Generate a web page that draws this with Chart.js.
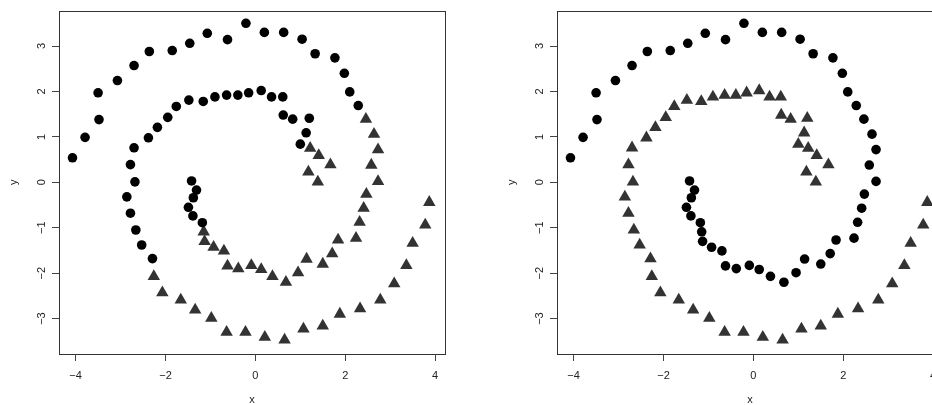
<!DOCTYPE html>
<html>
<head>
<meta charset="utf-8">
<script src="https://cdn.jsdelivr.net/npm/chart.js@4"></script>
<style>
  html, body { margin: 0; padding: 0; background: #fff; overflow: hidden; width: 932px; height: 405px; }
  .panel { position: absolute; top: 0; }
  #left-panel { left: 0; }
  #right-panel { left: 498px; }
</style>
</head>
<body>
<div class="panel" id="left-panel"><canvas id="chart-left" width="460" height="405"></canvas></div>
<div class="panel" id="right-panel"><canvas id="chart-right" width="460" height="405"></canvas></div>
<script>
// ==================================================
// DATA
// ==================================================
// spiral arm A: outer arc, right side, inner lower arc, centre
const spiralAx = [-4.07, -3.79, -3.48, -3.50, -3.07, -2.70, -2.36, -1.85, -1.46, -1.07,
  -0.62, -0.21, 0.20, 0.63, 1.04, 1.33, 1.77, 1.98, 2.10, 2.29,
  2.46, 2.64, 2.73, 2.58, 2.73,
  2.47, 2.41, 2.32, 2.24, 1.84, 1.71, 1.50, 1.14, 0.95, 0.68,
  0.38, 0.13, -0.09, -0.38, -0.62, -0.70, -0.93, -1.13, -1.15,
  -1.18, -1.39, -1.49, -1.38, -1.31, -1.42];
const spiralAy = [0.54, 0.99, 1.38, 1.97, 2.24, 2.57, 2.88, 2.90, 3.06, 3.28,
  3.14, 3.50, 3.30, 3.30, 3.15, 2.83, 2.74, 2.40, 1.99, 1.69,
  1.39, 1.06, 0.72, 0.38, 0.02,
  -0.26, -0.57, -0.88, -1.23, -1.27, -1.57, -1.80, -1.69, -1.99, -2.20,
  -2.07, -1.92, -1.83, -1.90, -1.84, -1.51, -1.43, -1.30, -1.09,
  -0.89, -0.74, -0.55, -0.34, -0.17, 0.03];

// spiral arm B: centre, inner upper arc, left side, outer lower arc
const spiralBx = [1.39, 1.18, 1.67, 1.41, 1.22,
  1.00, 1.13, 1.20, 0.83, 0.62, 0.61, 0.36, 0.13,
  -0.15, -0.39, -0.64, -0.90, -1.16, -1.48, -1.76, -1.95, -2.18, -2.38, -2.70, -2.78, -2.68, -2.86,
  -2.78, -2.66, -2.53, -2.29,
  -2.26, -2.07, -1.66, -1.34, -0.98, -0.64, -0.22,
  0.21, 0.65, 1.07, 1.50, 1.88, 2.33, 2.78, 3.09, 3.36, 3.50, 3.78, 3.87];
const spiralBy = [0.01, 0.23, 0.39, 0.59, 0.75,
  0.84, 1.09, 1.41, 1.39, 1.48, 1.88, 1.88, 2.02,
  1.97, 1.92, 1.92, 1.88, 1.78, 1.81, 1.67, 1.43, 1.21, 0.98, 0.76, 0.39, 0.01, -0.32,
  -0.68, -1.05, -1.38, -1.68,
  -2.07, -2.43, -2.59, -2.81, -2.99, -3.30, -3.30,
  -3.41, -3.47, -3.23, -3.16, -2.90, -2.78, -2.59, -2.23, -1.83, -1.34, -0.94, -0.44];

// group of each point (1 = circle, 2 = triangle)
const leftGroupA = [1, 1, 1, 1, 1, 1, 1, 1, 1, 1, 1, 1, 1, 1, 1, 1, 1, 1, 1, 1,
  2, 2, 2, 2, 2,
  2, 2, 2, 2, 2, 2, 2, 2, 2, 2, 2, 2, 2, 2, 2, 2, 2, 2, 2,
  1, 1, 1, 1, 1, 1];
const leftGroupB = [2, 2, 2, 2, 2,
  1, 1, 1, 1, 1, 1, 1, 1,
  1, 1, 1, 1, 1, 1, 1, 1, 1, 1, 1, 1, 1, 1,
  1, 1, 1, 1,
  2, 2, 2, 2, 2, 2, 2,
  2, 2, 2, 2, 2, 2, 2, 2, 2, 2, 2, 2];
const rightGroupA = spiralAx.map(() => 1);
const rightGroupB = spiralBx.map(() => 2);

const xTicks = [-4, -2, 0, 2, 4];
const yTicks = [-3, -2, -1, 0, 1, 2, 3];

// ==================================================
// HELPERS
// ==================================================
Chart.defaults.font.family = '"Liberation Sans", Arial, sans-serif';

function pickPoints(xs, ys, groups, wanted) {
  const points = [];
  xs.forEach((x, i) => {
    if (groups[i] === wanted) points.push({ x: x, y: ys[i] });
  });
  return points;
}

const minusLabel = (value) => (value < 0 ? "\u2212" + Math.abs(value) : String(value));

// R style box round the plot region
const plotBox = {
  id: "plotBox",
  afterDraw(chart) {
    const { ctx, chartArea } = chart;
    ctx.save();
    ctx.strokeStyle = "#333";
    ctx.lineWidth = 1;
    ctx.strokeRect(
      Math.round(chartArea.left) + 0.5,
      Math.round(chartArea.top) + 0.5,
      Math.round(chartArea.width),
      Math.round(chartArea.height)
    );
    ctx.restore();
  },
};

// ==================================================
// CHART JS CANVAS
// ==================================================
function makePanel(canvasId, groupsA, groupsB) {
  const circles = pickPoints(spiralAx, spiralAy, groupsA, 1).concat(
    pickPoints(spiralBx, spiralBy, groupsB, 1)
  );
  const triangles = pickPoints(spiralAx, spiralAy, groupsA, 2).concat(
    pickPoints(spiralBx, spiralBy, groupsB, 2)
  );

  const ctx = document.getElementById(canvasId).getContext("2d");

  return new Chart(ctx, {
    type: "scatter",
    data: {
      datasets: [
        {
          data: circles,
          pointStyle: "circle",
          pointRadius: 4.8,
          pointBackgroundColor: "#000",
          pointBorderColor: "#000",
          pointBorderWidth: 0,
        },
        {
          data: triangles,
          pointStyle: "triangle",
          pointRadius: 7.2,
          pointBackgroundColor: "#333",
          pointBorderColor: "#333",
          pointBorderWidth: 0,
        },
      ],
    },
    options: {
      responsive: false,
      animation: false,
      devicePixelRatio: 1,
      events: [],
      layout: { padding: { left: 0, top: 9, right: 15, bottom: 0 } },
      plugins: { legend: { display: false }, tooltip: { enabled: false } },
      scales: {
        x: {
          type: "linear",
          min: -4.37,
          max: 4.22,
          afterBuildTicks: (scale) => {
            scale.ticks = xTicks.map((v) => ({ value: v }));
          },
          afterFit: (scale) => {
            scale.height = 51;
          },
          grid: { drawOnChartArea: false, drawTicks: true, tickLength: 7, color: "#444" },
          border: { display: false },
          ticks: { font: { size: 11 }, color: "#222", padding: 8, maxRotation: 0, callback: minusLabel },
          title: { display: true, text: "x", color: "#222", font: { size: 11, lineHeight: 1 }, padding: 0 },
        },
        y: {
          type: "linear",
          min: -3.78,
          max: 3.78,
          afterBuildTicks: (scale) => {
            scale.ticks = yTicks.map((v) => ({ value: v }));
          },
          afterFit: (scale) => {
            scale.width = 59;
          },
          grid: { drawOnChartArea: false, drawTicks: true, tickLength: 7, color: "#444" },
          border: { display: false },
          ticks: {
            font: { size: 11 },
            color: "#222",
            padding: 4,
            minRotation: 90,
            maxRotation: 90,
            crossAlign: "center",
            callback: minusLabel,
          },
          title: { display: true, text: "y", color: "#222", font: { size: 11, lineHeight: 1 }, padding: { top: 8, bottom: 0 } },
        },
      },
    },
    plugins: [plotBox],
  });
}

makePanel("chart-left", leftGroupA, leftGroupB);
makePanel("chart-right", rightGroupA, rightGroupB);
</script>
</body>
</html>
